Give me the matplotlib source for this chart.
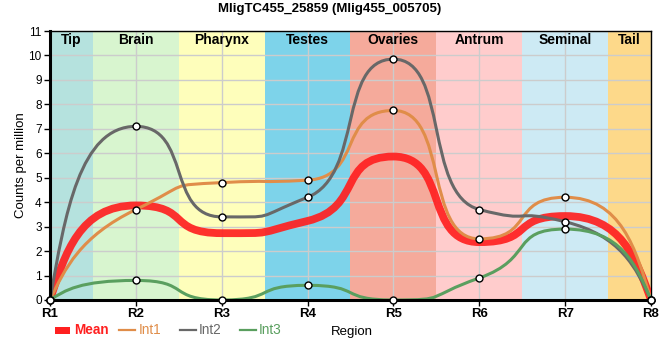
import numpy as np
import matplotlib
matplotlib.use("Agg")
import matplotlib.pyplot as plt
from matplotlib.path import Path
from matplotlib.patches import PathPatch, Rectangle
from matplotlib.lines import Line2D

plt.rcParams['font.family'] = ['Liberation Sans', 'DejaVu Sans']

positions = ["R1", "R2", "R3", "R4", "R5", "R6", "R7", "R8"]
int1 = [0, 3.7, 4.8, 4.9, 7.75, 2.5, 4.2, 0]
int2 = [0, 7.1, 3.4, 4.2, 9.85, 3.7, 3.2, 0]
int3 = [0, 0.8, 0.0, 0.6, 0.0, 0.9, 2.9, 0]
mean = [np.mean(v) for v in zip(int1, int2, int3)]

regions = ["Tip", "Brain", "Pharynx", "Testes", "Ovaries", "Antrum", "Seminal", "Tail"]
region_edges = [0, 0.5, 1.5, 2.5, 3.5, 4.5, 5.5, 6.5, 7]
region_colors = ["#b5e2de", "#d8f5cf", "#fefebb", "#7dd3ea",
                 "#f5aa9b", "#ffcccc", "#cdeaf4", "#fdd98a"]

series = [("Mean", mean, "#ff2020", 5.6, 0.92),
          ("Int1", int1, "#e08d49", 2.2, 1.0),
          ("Int2", int2, "#686868", 2.2, 1.0),
          ("Int3", int3, "#5a9f5f", 2.2, 1.0)]


def spline_path(xs, ys, a=0.65):
    # smooth curve with flat tangents at local extremes, long handles
    n = len(xs)
    m = [0.0] * n
    for i in range(1, n - 1):
        d0 = (ys[i] - ys[i - 1]) / (xs[i] - xs[i - 1])
        d1 = (ys[i + 1] - ys[i]) / (xs[i + 1] - xs[i])
        if d0 * d1 > 0:
            m[i] = 2 / (1 / d0 + 1 / d1)
    verts = [(xs[0], ys[0])]
    codes = [Path.MOVETO]
    for i in range(n - 1):
        h = xs[i + 1] - xs[i]
        c1 = (xs[i] + a * h, ys[i] + m[i] * a * h)
        c2 = (xs[i + 1] - a * h, ys[i + 1] - m[i + 1] * a * h)
        if i == 0:
            c1 = (xs[0] + 0.5 * (c2[0] - xs[0]), ys[0] + 0.5 * (c2[1] - ys[0]))
        if i == n - 2:
            c2 = (xs[-1] + 0.5 * (c1[0] - xs[-1]), ys[-1] + 0.5 * (c1[1] - ys[-1]))
        verts += [c1, c2, (xs[i + 1], ys[i + 1])]
        codes += [Path.CURVE4] * 3
    return Path(verts, codes)


def fx(px):
    return px / 660


def fy(py):
    return 1 - py / 360


fig = plt.figure(figsize=(6.6, 3.6), dpi=100)
ax = fig.add_axes([fx(50), fy(300), 601 / 660, 269 / 360])

x = np.arange(len(positions)).astype(float)
for i, name in enumerate(regions):
    ax.axvspan(region_edges[i], region_edges[i + 1], color=region_colors[i], lw=0, zorder=0)
    ax.text((region_edges[i] + region_edges[i + 1]) / 2, 10.62, name, ha="center", va="center",
            fontsize=10, fontweight="bold", zorder=5)

ax.set_xlim(0, 7)
ax.set_ylim(0, 11)
ax.set_xticks(x)
ax.set_xticklabels(positions, fontsize=9.5, fontweight="bold")
ax.set_yticks(range(12))
ax.tick_params(axis="y", labelsize=8.5, length=4, width=1, pad=2)
ax.tick_params(axis="x", length=4, width=1, pad=2)
ax.grid(True, color="#cccccc", lw=1, zorder=1)
ax.set_axisbelow(True)
for s in ["top", "right"]:
    ax.spines[s].set_linewidth(1)
for s in ["left", "bottom"]:
    ax.spines[s].set_linewidth(2.2)
    ax.spines[s].set_zorder(6)

for name, vals, col, lw, alpha in series:
    ax.add_patch(PathPatch(spline_path(list(x), vals), facecolor="none", edgecolor=col,
                           lw=lw, alpha=alpha, zorder=3, capstyle="round", joinstyle="round"))
for name, vals, col, lw, alpha in series[1:]:
    ax.plot(x, vals, ls="none", marker="o", ms=5, mfc="white", mec="black",
            mew=1, zorder=7, clip_on=False)

ax.set_ylabel("Counts per million", fontsize=9.5, labelpad=1)
fig.text(0.5, fy(9), "MligTC455_25859 (Mlig455_005705)", fontsize=9.5,
         fontweight="bold", ha="center", va="center")

# legend row along the bottom
fig.add_artist(Rectangle((fx(55), fy(334)), 15 / 660, 7 / 360, transform=fig.transFigure,
                         facecolor=series[0][2], edgecolor="none"))
fig.text(fx(74), fy(330), "Mean", color=series[0][2], fontsize=9.8, fontweight="bold",
         va="center", ha="left")
for (name, vals, col, lw, alpha), lx, tx in zip(series[1:], [119, 180, 240], [139, 199, 259]):
    fig.add_artist(Line2D([fx(lx), fx(lx + 16)], [fy(330), fy(330)], transform=fig.transFigure,
                          color=col, lw=1.6))
    fig.text(fx(tx), fy(330), name, color=col, fontsize=9.8, va="center", ha="left")
fig.text(fx(331), fy(332), "Region", fontsize=9.5, va="center", ha="left")

fig.savefig("out.png", dpi=100)
